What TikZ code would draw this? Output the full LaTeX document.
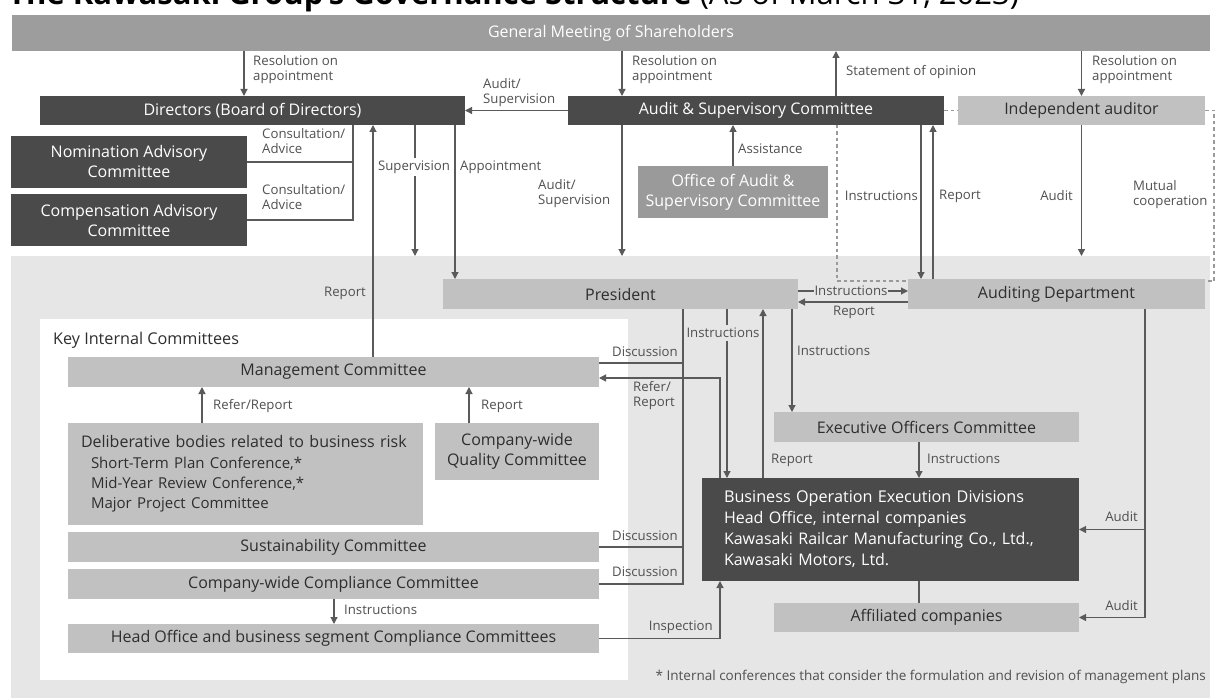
\documentclass[tikz,border=0pt]{standalone}
\usepackage{fontspec}
\setmainfont{Open Sans}
\usetikzlibrary{arrows.meta}
\definecolor{dk}{HTML}{4A4A4A}
\definecolor{lt}{HTML}{C1C1C1}
\definecolor{md}{HTML}{9D9D9D}
\definecolor{of}{HTML}{9A9A9A}
\definecolor{bg}{HTML}{E6E6E6}
\definecolor{ln}{HTML}{5A5A5A}
\definecolor{tx}{HTML}{2E2E2E}
\definecolor{lb}{HTML}{505050}
\definecolor{dsh}{HTML}{9A9A9A}
\newcommand\mkbox[7]{\node[#6,anchor=north west,minimum width={(#4-#2)*1pt},minimum height={(#5-#3)*1pt}] (#1) at (#2,#3) {#7};}
\tikzset{
  boxbase/.style={inner sep=0pt,outer sep=0pt,align=center,font=\fontsize{16}{20}\selectfont},
  darkbox/.style={boxbase,fill=dk,text=white},
  lightbox/.style={boxbase,fill=lt,text=tx},
  midbox/.style={boxbase,fill=md,text=white},
  officebox/.style={boxbase,fill=of,text=white},
  areabox/.style={inner sep=0pt,outer sep=0pt},
  lab/.style={inner sep=0pt,text=lb,align=left,font=\fontsize{13.2}{15.5}\selectfont},
  conn/.style={draw=ln,line width=1.2pt},
  arr/.style={conn,-{Triangle[length=7pt,width=7pt]}},
  dashline/.style={draw=dsh,line width=1.5pt,dash pattern=on 3.5pt off 3pt},
}
\begin{document}
\begin{tikzpicture}[x=1pt,y=-1pt]
\useasboundingbox (0,0) rectangle (1216,698);
\clip (0,0) rectangle (1216,698);
% title (cut off at top)
\node[anchor=base west,inner sep=0pt,font=\fontsize{31}{31}\selectfont] (title) at (8,5) {\bfseries The Kawasaki Group's Governance Structure \mdseries(As of March 31, 2023)};
% background areas
\mkbox{execbg}{11}{256}{1210}{698}{areabox,fill=bg}{}
\mkbox{kic}{40}{319}{628}{680}{areabox,fill=white}{}
% boxes
\mkbox{gm}{12}{15}{1210}{51}{midbox}{General Meeting of Shareholders}
\mkbox{dir}{40}{96}{465}{125}{darkbox}{Directors (Board of Directors)}
\mkbox{asc}{568}{96}{944}{125}{darkbox}{Audit \& Supervisory Committee}
\mkbox{ia}{958}{96}{1205}{125}{lightbox}{Independent auditor}
\mkbox{nom}{11}{136}{247}{188}{darkbox}{Nomination Advisory\\Committee}
\mkbox{comp}{11}{194}{247}{246}{darkbox}{Compensation Advisory\\Committee}
\mkbox{office}{638}{166}{828}{218}{officebox}{Office of Audit \&\\Supervisory Committee}
\mkbox{pres}{443}{279}{798}{309}{lightbox}{President}
\mkbox{aud}{908}{279}{1205}{309}{lightbox}{Auditing Department}
\mkbox{mgmt}{68}{357}{599}{387}{lightbox}{Management Committee}
\node[lightbox,anchor=north west,align=left,text width=329pt,inner xsep=13pt,minimum height=102pt,font=\fontsize{16}{20.3}\selectfont] (delib) at (68,423) {Deliberative bodies related to business risk\\{\fontsize{15}{20.3}\selectfont\hspace*{10pt}Short-Term Plan Conference,*}\\{\fontsize{15}{20.3}\selectfont\hspace*{10pt}Mid-Year Review Conference,*}\\{\fontsize{15}{20.3}\selectfont\hspace*{10pt}Major Project Committee}};
\mkbox{qual}{435}{423}{599}{480}{lightbox}{Company-wide\\Quality Committee}
\mkbox{sust}{68}{532}{599}{562}{lightbox}{Sustainability Committee}
\mkbox{comp2}{68}{569}{599}{599}{lightbox}{Company-wide Compliance Committee}
\mkbox{ho}{68}{624}{599}{653}{lightbox}{Head Office and business segment Compliance Committees}
\mkbox{exec}{774}{412}{1079}{442}{lightbox}{Executive Officers Committee}
\node[darkbox,anchor=north west,align=left,text width=333pt,inner xsep=22pt,minimum height=103pt,font=\fontsize{16}{21}\selectfont] (bod) at (702,478) {{\fontsize{16.2}{21}\selectfont Business Operation Execution Divisions}\\Head Office, internal companies\\Kawasaki Railcar Manufacturing Co., Ltd.,\\Kawasaki Motors, Ltd.};
\mkbox{aff}{774}{603}{1079}{632}{lightbox}{Affiliated companies}
% dashed mutual cooperation
\draw[dashline] (asc.east) -- (ia.west);
\draw[dashline] (asc.south -| 837,0) -- (837,281) -- (aud.west |- 0,281);
\draw[dashline] (ia.east) -- (ia.east -| 1214,0) -- (1214,281) -- (aud.east |- 0,281);
% top connectors
\draw[arr] (gm.south -| 244,0) -- (dir.north -| 244,0);
\draw[arr] (gm.south -| 622,0) -- (asc.north -| 622,0);
\draw[arr] (asc.north -| 836,0) -- (gm.south -| 836,0);
\draw[arr] (gm.south -| ia.south) -- (ia.north);
\draw[arr] (asc.west) -- (dir.east);
\draw[conn] (nom.east) -- (nom.east -| 353,0) -- (dir.south -| 353,0);
\draw[conn] (comp.east) -- (comp.east -| 353,0) -- (nom.east -| 353,0);
\draw[arr] (mgmt.north -| 373,0) -- (dir.south -| 373,0);
\draw[arr] (dir.south -| 415,0) -- (execbg.north -| 415,0);
\draw[arr] (dir.south -| 455,0) -- (pres.north -| 455,0);
\draw[arr] (asc.south -| 622,0) -- (execbg.north -| 622,0);
\draw[arr] (office.north) -- (asc.south -| office.north);
\draw[arr] (asc.south -| 921,0) -- (aud.north -| 921,0);
\draw[arr] (aud.north -| 933,0) -- (asc.south -| 933,0);
\draw[arr] (ia.south) -- (execbg.north -| ia.south);
% president / auditing
\draw[arr] (pres.east |- 0,291) -- (aud.west |- 0,291);
\draw[arr] (aud.west |- 0,302) -- (pres.east |- 0,302);
% discussion
\draw[conn] (pres.south -| 683,0) -- (comp2.east -| 683,0) -- (comp2.east);
\draw[conn] (sust.east) -- (sust.east -| 683,0);
\draw[conn] (mgmt.east |- 0,363) -- (683,363);
\draw[arr] (bod.north -| 720,0) -- (720,378) -- (mgmt.east |- 0,378);
\draw[arr] (pres.south -| 727,0) -- (bod.north -| 727,0);
\draw[arr] (bod.north -| 763,0) -- (pres.south -| 763,0);
\draw[arr] (pres.south -| 792,0) -- (exec.north -| 792,0);
\draw[arr] (exec.south -| 919,0) -- (bod.north -| 919,0);
\draw[conn] (bod.south -| 919,0) -- (aff.north -| 919,0);
\draw[arr] (aud.south -| 1145,0) -- (aff.east -| 1145,0) -- (aff.east);
\draw[arr] (bod.east -| 1145,0) -- (bod.east);
\draw[arr] (ho.east) -- (ho.east -| 720,0) -- (bod.south -| 720,0);
\draw[arr] (comp2.south -| 334,0) -- (ho.north -| 334,0);
\draw[arr] (delib.north -| 202,0) -- (mgmt.south -| 202,0);
\draw[arr] (qual.north -| 469,0) -- (mgmt.south -| 469,0);
% labels
\node[lab,anchor=north west] (l1) at (253,55) {Resolution on\\appointment};
\node[lab,anchor=north west] (l2) at (632,55) {Resolution on\\appointment};
\node[lab,anchor=west] (l3) at (846,72) {Statement of opinion};
\node[lab,anchor=north west] (l4) at (1092,55) {Resolution on\\appointment};
\node[lab,anchor=north west] (l5) at (483,78) {Audit/\\Supervision};
\node[lab,anchor=north west] (l6) at (262,128) {Consultation/\\Advice};
\node[lab,anchor=north west] (l7) at (262,184) {Consultation/\\Advice};
\node[lab,anchor=east] (l8) at (366,293) {Report};
\node[lab,fill=white,inner xsep=2pt,inner ysep=3pt] (l9) at (414,167) {Supervision};
\node[lab,anchor=west] (l10) at (460,167) {Appointment};
\node[lab,anchor=north west] (l11) at (538,179) {Audit/\\Supervision};
\node[lab,anchor=west] (l12) at (738,149) {Assistance};
\node[lab,anchor=east] (l13) at (918,196) {Instructions};
\node[lab,anchor=west] (l14) at (939,196) {Report};
\node[lab,anchor=east] (l15) at (1073,196) {Audit};
\node[lab,anchor=north west] (l16) at (1133,180) {Mutual\\cooperation};
\node[lab,fill=bg,inner xsep=1pt,inner ysep=1pt] (l17) at (851,291) {Instructions};
\node[lab] (l18) at (854,312) {Report};
\node[lab,anchor=east] (l19) at (678,352) {Discussion};
\node[lab,anchor=north west] (l20) at (633,381) {Refer/\\Report};
\node[lab,fill=bg,inner xsep=1pt,inner ysep=3pt] (l21) at (723,333) {Instructions};
\node[lab,anchor=west] (l22) at (797,351) {Instructions};
\node[lab,anchor=west] (l23) at (771,460) {Report};
\node[lab,anchor=west] (l24) at (927,459) {Instructions};
\node[lab,anchor=east] (l25) at (1138,517) {Audit};
\node[lab,anchor=east] (l26) at (1138,606) {Audit};
\node[lab,anchor=east] (l27) at (678,536) {Discussion};
\node[lab,anchor=east] (l28) at (678,572) {Discussion};
\node[lab,anchor=east] (l29) at (713,627) {Inspection};
\node[lab,anchor=west] (l30) at (344,610) {Instructions};
\node[lab,anchor=west] (l31) at (213,406) {Refer/Report};
\node[lab,anchor=west] (l32) at (481,406) {Report};
\node[lab,anchor=west,text=tx,font=\fontsize{16.2}{18}\selectfont] (kict) at (53,340) {Key Internal Committees};
\node[lab,anchor=east,font=\fontsize{13.5}{15}\selectfont] (foot) at (1206,677) {* Internal conferences that consider the formulation and revision of management plans};
\end{tikzpicture}
\end{document}
